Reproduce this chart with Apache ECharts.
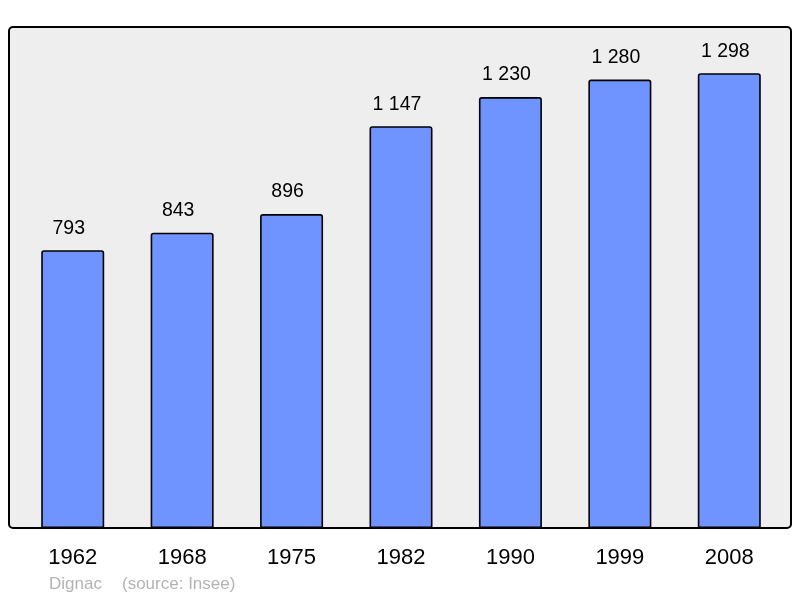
<!DOCTYPE html>
<html lang="fr">
  <head>
    <meta charset="UTF-8" />
    <title>Dignac</title>
    <script src="https://cdn.jsdelivr.net/npm/echarts@6.0.0/dist/echarts.min.js"></script>
    <style>
      html, body { margin: 0; padding: 0; background: #fff; }
    </style>
  </head>
  <body>
    <div id="main" style="width: 800px; height: 598px"></div>
    <script type="text/javascript">
      // population by census year
      const years = ["1962", "1968", "1975", "1982", "1990", "1999", "2008"];
      const population = [793, 843, 896, 1147, 1230, 1280, 1298];

      // "1 147" style thousands separator
      function frNumber(v) {
        return String(v).replace(/\B(?=(\d{3})+(?!\d))/g, " ");
      }

      let myChart = echarts.init(document.getElementById("main"));

      const font = "Liberation Sans, Arial, sans-serif";

      let options = {
        animation: false,
        textStyle: { fontFamily: font },
        graphic: [
          {
            type: "rect",
            z: -10,
            shape: { x: 9, y: 27, width: 782, height: 501, r: 4 },
            style: { fill: "#eeeeee", stroke: "#000", lineWidth: 2 },
          },
          {
            type: "text",
            left: 49,
            top: 576,
            style: { text: "Dignac", fill: "#b3b3b3", font: "17px " + font },
          },
          {
            type: "text",
            left: 122,
            top: 576,
            style: { text: "(source: Insee)", fill: "#b3b3b3", font: "17px " + font },
          },
        ],
        grid: { left: 18, right: 16, top: 27, bottom: 70 },
        xAxis: {
          type: "category",
          data: years,
          axisLine: { show: false },
          axisTick: { show: false },
          axisLabel: { color: "#000", fontSize: 22, margin: 19 },
        },
        yAxis: {
          type: "value",
          min: 0,
          max: 1430,
          show: false,
          splitLine: { show: false },
        },
        series: [
          {
            type: "bar",
            data: population,
            barWidth: 63,
            itemStyle: {
              color: "#7094ff",
              borderColor: "#000",
              borderWidth: 1.6,
              borderRadius: [2, 2, 0, 0],
            },
            label: {
              show: true,
              position: "top",
              distance: 12,
              offset: [-4, 0],
              color: "#000",
              fontSize: 19.5,
              formatter: (p) => frNumber(p.value),
            },
          },
        ],
      };

      myChart.setOption(options);
    </script>
  </body>
</html>
